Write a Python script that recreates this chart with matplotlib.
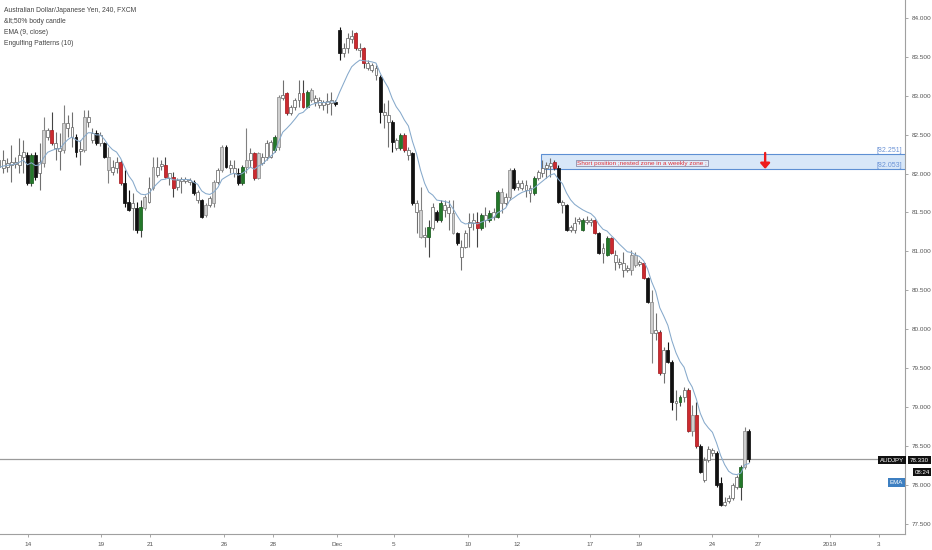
import matplotlib
matplotlib.use('Agg')
import matplotlib.pyplot as plt
from matplotlib.patches import Rectangle
import numpy as np

plt.rcParams['font.family'] = ['Liberation Sans', 'DejaVu Sans']

# ---------------- data (AUDJPY, 240 min candles) ----------------
opens = [
    82.09, 82.07, 82.09, 82.11, 82.12, 82.11, 82.21, 82.24, 81.88, 82.24,
    82.01, 82.14, 82.47, 82.56, 82.33, 82.29, 82.30, 82.59, 82.47, 82.47,
    82.29, 82.30, 82.66, 82.43, 82.52, 82.39, 82.39, 82.21, 82.02, 82.07,
    82.15, 81.88, 81.64, 81.56, 81.56, 81.28, 81.56, 81.64, 81.82, 81.98,
    82.10, 82.11, 81.94, 81.96, 81.83, 81.90, 81.90, 81.89, 81.89, 81.66,
    81.66, 81.47, 81.60, 81.62, 81.89, 82.05, 82.34, 82.07, 82.01, 82.01,
    81.88, 82.09, 82.18, 82.27, 81.94, 82.14, 82.21, 82.21, 82.30, 82.34,
    82.97, 83.04, 82.78, 82.86, 82.95, 83.04, 82.86, 82.95, 82.92, 82.88,
    82.88, 82.89, 82.91, 82.92, 83.85, 83.55, 83.61, 83.73, 83.81, 83.59,
    83.61, 83.36, 83.33, 83.27, 83.24, 82.75, 82.66, 82.66, 82.33, 82.33,
    82.50, 82.24, 82.27, 81.51, 81.53, 81.19, 81.19, 81.30, 81.51, 81.40,
    81.53, 81.49, 81.49, 81.24, 80.93, 81.06, 81.31, 81.37, 81.38, 81.30,
    81.40, 81.40, 81.44, 81.44, 81.76, 81.62, 81.70, 82.05, 81.83, 81.82,
    81.79, 81.75, 81.75, 81.94, 82.01, 82.07, 82.10, 82.15, 82.07, 81.60,
    81.60, 81.28, 81.28, 81.39, 81.28, 81.38, 81.38, 81.40, 81.24, 80.98,
    80.95, 81.17, 80.86, 80.84, 80.76, 80.76, 80.76, 80.95, 80.84, 80.85,
    80.66, 80.35, 79.95, 79.96, 79.44, 79.73, 79.58, 79.05, 79.06, 79.13,
    79.22, 78.69, 78.90, 78.50, 78.06, 78.32, 78.41, 78.41, 78.02, 77.74,
    77.79, 77.83, 77.97, 77.97, 78.23, 78.69,
]
highs = [
    82.37, 82.30, 82.20, 82.37, 82.21, 82.46, 82.43, 82.28, 82.26, 82.28,
    82.39, 82.73, 82.59, 82.79, 82.53, 82.52, 82.88, 82.75, 82.79, 82.51,
    82.43, 82.82, 82.82, 82.59, 82.56, 82.53, 82.41, 82.34, 82.18, 82.21,
    82.18, 82.05, 81.79, 81.75, 81.64, 81.66, 81.73, 81.96, 82.21, 82.21,
    82.18, 82.21, 82.01, 82.02, 81.94, 81.96, 81.96, 81.94, 81.92, 81.79,
    81.67, 81.62, 81.71, 81.92, 82.07, 82.37, 82.37, 82.18, 82.18, 82.07,
    82.11, 82.59, 82.33, 82.28, 82.28, 82.27, 82.43, 82.43, 82.50, 83.01,
    83.20, 83.05, 82.88, 82.97, 83.20, 83.20, 83.07, 83.10, 83.01, 82.98,
    82.95, 83.04, 83.05, 82.95, 83.88, 83.68, 83.81, 83.85, 83.82, 83.68,
    83.63, 83.46, 83.42, 83.40, 83.27, 82.91, 82.95, 82.69, 82.46, 82.52,
    82.52, 82.34, 82.28, 81.66, 81.83, 81.31, 81.40, 81.62, 81.53, 81.66,
    81.66, 81.66, 81.66, 81.25, 81.15, 81.28, 81.49, 81.49, 81.51, 81.49,
    81.57, 81.53, 81.56, 81.79, 81.82, 81.75, 82.07, 82.07, 81.92, 81.92,
    81.92, 81.85, 81.97, 82.05, 82.18, 82.15, 82.20, 82.18, 82.11, 81.66,
    81.61, 81.34, 81.44, 81.44, 81.43, 81.46, 81.43, 81.42, 81.25, 81.11,
    81.20, 81.19, 81.02, 80.92, 80.99, 80.83, 81.02, 80.99, 80.89, 80.86,
    80.67, 80.50, 80.21, 79.99, 79.77, 79.84, 79.60, 79.22, 79.15, 79.26,
    79.24, 79.03, 79.06, 78.53, 78.36, 78.50, 78.47, 78.44, 78.10, 77.84,
    77.87, 78.02, 78.13, 78.26, 78.74, 78.72,
]
lows = [
    81.66, 82.01, 82.02, 81.89, 82.07, 82.01, 82.01, 81.85, 81.84, 81.92,
    81.79, 82.09, 82.43, 82.37, 82.18, 82.05, 82.27, 82.47, 82.34, 82.21,
    82.11, 82.28, 82.60, 82.39, 82.37, 82.35, 82.20, 81.88, 81.98, 82.01,
    81.85, 81.57, 81.52, 81.28, 81.24, 81.19, 81.53, 81.62, 81.79, 81.96,
    82.05, 81.94, 81.85, 81.70, 81.79, 81.75, 81.88, 81.85, 81.72, 81.62,
    81.43, 81.44, 81.57, 81.57, 81.87, 82.02, 82.07, 82.01, 81.96, 81.85,
    81.85, 82.01, 82.09, 81.92, 81.93, 82.11, 82.18, 82.20, 82.28, 82.30,
    82.95, 82.75, 82.75, 82.82, 82.86, 82.84, 82.84, 82.92, 82.87, 82.84,
    82.82, 82.78, 82.75, 82.87, 83.46, 83.50, 83.55, 83.68, 83.59, 83.50,
    83.36, 83.33, 83.31, 83.20, 82.65, 82.59, 82.34, 82.28, 82.30, 82.30,
    82.28, 82.18, 81.60, 81.24, 81.17, 81.06, 80.93, 81.28, 81.38, 81.38,
    81.44, 81.28, 81.22, 81.08, 80.76, 81.04, 81.06, 81.28, 81.06, 81.28,
    81.31, 81.38, 81.40, 81.43, 81.49, 81.60, 81.66, 81.79, 81.79, 81.79,
    81.70, 81.64, 81.73, 81.92, 81.96, 81.94, 81.96, 82.05, 81.62, 81.49,
    81.26, 81.25, 81.24, 81.35, 81.26, 81.35, 81.33, 81.22, 80.97, 80.85,
    80.94, 80.97, 80.76, 80.79, 80.67, 80.74, 80.70, 80.80, 80.81, 80.65,
    80.34, 79.57, 79.86, 79.41, 79.31, 79.57, 78.96, 78.83, 79.01, 79.06,
    78.68, 78.63, 78.47, 78.15, 78.04, 78.29, 78.37, 77.97, 77.73, 77.73,
    77.77, 77.80, 77.95, 77.80, 78.20, 78.29,
]
closes = [
    82.18, 82.18, 82.14, 82.15, 82.15, 82.24, 82.28, 81.88, 82.24, 81.96,
    82.15, 82.56, 82.56, 82.39, 82.39, 82.33, 82.65, 82.65, 82.60, 82.28,
    82.32, 82.73, 82.73, 82.52, 82.39, 82.50, 82.21, 82.05, 82.09, 82.15,
    81.88, 81.62, 81.53, 81.62, 81.28, 81.57, 81.70, 81.82, 82.09, 82.09,
    82.12, 81.96, 82.01, 81.82, 81.92, 81.93, 81.93, 81.92, 81.75, 81.76,
    81.44, 81.60, 81.69, 81.89, 82.05, 82.34, 82.09, 82.11, 82.07, 81.88,
    82.09, 82.18, 82.27, 81.94, 82.27, 82.21, 82.39, 82.41, 82.47, 82.98,
    83.01, 82.78, 82.86, 82.95, 83.04, 82.86, 83.05, 83.07, 82.97, 82.95,
    82.92, 82.93, 82.95, 82.89, 83.55, 83.61, 83.74, 83.77, 83.61, 83.61,
    83.42, 83.42, 83.40, 83.36, 82.79, 82.79, 82.75, 82.41, 82.43, 82.50,
    82.30, 82.30, 81.62, 81.62, 81.19, 81.21, 81.31, 81.57, 81.40, 81.62,
    81.60, 81.57, 81.24, 81.11, 81.06, 81.24, 81.38, 81.40, 81.30, 81.47,
    81.47, 81.49, 81.51, 81.76, 81.62, 81.70, 82.05, 81.82, 81.88, 81.88,
    81.85, 81.82, 81.94, 82.02, 82.07, 82.11, 82.14, 82.07, 81.64, 81.64,
    81.28, 81.31, 81.37, 81.42, 81.40, 81.40, 81.40, 81.24, 80.98, 81.04,
    81.17, 80.98, 80.95, 80.86, 80.85, 80.79, 80.95, 80.83, 80.86, 80.66,
    80.35, 79.95, 79.99, 79.44, 79.73, 79.58, 79.06, 79.08, 79.13, 79.22,
    78.69, 78.90, 78.50, 78.17, 78.32, 78.46, 78.45, 78.00, 77.74, 77.78,
    77.83, 78.00, 78.10, 78.23, 78.69, 78.33,
]
# candles flagged by the indicators
bull_engulf = [8, 35, 60, 68, 76, 99, 106, 109, 119, 121, 123, 132, 144, 150, 168, 183]
bear_engulf = [13, 30, 41, 43, 63, 71, 75, 88, 90, 100, 118, 137, 147, 151, 159, 163, 170, 172]
grey_body = [11, 16, 21, 27, 36, 38, 51, 53, 55, 61, 64, 69, 77, 104, 112, 124, 126,
             156, 157, 161, 171, 184]

ema_length = 9
ema_seed = 82.05
last_price = 78.33
zone_top, zone_bottom = 82.251, 82.053
zone_start = 133.7          # candle index where the zone begins
arrow_at = 189              # candle index of the red arrow
note_at = 142.6             # candle index of the note
tick_at = [7.15, 25.2, 37.2, 55.5, 67.6, 83.4, 97.4, 115.7, 127.8, 145.8, 157.9,
           175.9, 187.2, 205.0, 217.0]
tick_labels = ['14', '19', '21', '26', '28', 'Dec', '5', '10', '12', '17', '19',
               '24', '27', '2019', '3']
price_ticks = [77.5, 78.0, 78.5, 79.0, 79.5, 80.0, 80.5, 81.0, 81.5, 82.0, 82.5,
               83.0, 83.5, 84.0]

# ---------------- figure ----------------
W, H = 932, 550
fig = plt.figure(figsize=(W / 100, H / 100), dpi=100)
fig.patch.set_facecolor('white')
ax = fig.add_axes([0, 1 - 534 / H, 905 / W, 534 / H])
ax.set_facecolor('white')

X_MAX = 223.5
ax.set_xlim(0.247, X_MAX)
ax.set_ylim(77.368, 84.231)

o = np.array(opens); h = np.array(highs); l = np.array(lows); c = np.array(closes)
n = len(c)
x = np.arange(n)

face, edge, wick = [], [], []
for i in range(n):
    if i in bull_engulf:
        face.append('#23782a'); edge.append('#1b5e20'); wick.append('#444444')
    elif i in bear_engulf:
        face.append('#cc2a2f'); edge.append('#a51d22'); wick.append('#444444')
    elif i in grey_body:
        face.append('#cfcfcf'); edge.append('#8c8c8c'); wick.append('#808080')
    elif c[i] >= o[i]:
        face.append('#ffffff'); edge.append('#6a6a6a'); wick.append('#707070')
    else:
        face.append('#111111'); edge.append('#111111'); wick.append('#111111')

ax.vlines(x, l, h, colors=wick, linewidths=0.8, zorder=2)
bottoms = np.minimum(o, c)
heights = np.maximum(np.abs(c - o), 0.012)
ax.bar(x, heights, bottom=bottoms, width=0.72, color=face, edgecolor=edge,
       linewidth=0.55, zorder=3)

# EMA
ema = []
prev = ema_seed
alpha = 2 / (ema_length + 1)
for v in c:
    prev = alpha * v + (1 - alpha) * prev
    ema.append(prev)
ax.plot(x, ema, color='#86a9cb', lw=0.75, zorder=4)

# zone
ax.add_patch(Rectangle((zone_start, zone_bottom), X_MAX - zone_start + 2,
                       zone_top - zone_bottom, facecolor='#d8e7f8',
                       edgecolor='#5d8fd3', lw=0.8, zorder=1))
ax.text(222.7, 82.30, '[82.251]', ha='right', va='center', fontsize=5,
        color='#6b93d6', zorder=6)
ax.text(222.7, 82.105, '[82.053]', ha='right', va='center', fontsize=5,
        color='#6b93d6', zorder=6)
ax.text(note_at, 82.136, 'Short position ;nested zone in a weekly zone ;',
        ha='left', va='center', fontsize=4.6, color='#e0323a', zorder=6,
        bbox=dict(boxstyle='square,pad=0.12', fc='#e3edf9', ec='#8c8ca8', lw=0.6))
ax.annotate('', xy=(arrow_at, 82.06), xytext=(arrow_at, 82.265),
            arrowprops=dict(arrowstyle='-|>,head_width=0.28,head_length=0.32',
                            color='#ee1c1c', lw=1.7, shrinkA=0, shrinkB=0),
            zorder=6)

# last price line
ax.axhline(last_price, color='#9a9a9a', lw=0.9, zorder=1)

# axes styling
for s in ['top', 'left']:
    ax.spines[s].set_visible(False)
for s in ['right', 'bottom']:
    ax.spines[s].set_color('#a0a0a0')
    ax.spines[s].set_linewidth(0.8)
ax.yaxis.tick_right()
ax.set_yticks(price_ticks)
ax.set_yticklabels([f'{v:.3f}' for v in price_ticks])
ax.set_xticks(tick_at)
ax.set_xticklabels(tick_labels)
ax.tick_params(axis='y', length=2.5, width=0.6, color='#999999', labelsize=4.6,
               labelcolor='#555555', pad=2)
ax.tick_params(axis='x', length=2.5, width=0.6, color='#999999', labelsize=4.6,
               labelcolor='#555555', pad=3)

# legend texts (top-left)
legend_lines = ['Australian Dollar/Japanese Yen, 240, FXCM', '&lt;50% body candle',
                'EMA (9, close)', 'Engulfing Patterns (10)']
for k, t in enumerate(legend_lines):
    fig.text(4 / W, 1 - (11 + 10.8 * k) / H, t, ha='left', va='center',
             fontsize=4.9, color='#444444')

# right-side price labels
fig.text(892 / W, 1 - 460 / H, 'AUDJPY', ha='center', va='center', fontsize=4.4,
         color='white', bbox=dict(boxstyle='square,pad=0.25', fc='#111111', ec='none'))
fig.text(919.5 / W, 1 - 460 / H, f'{last_price:.3f}', ha='center', va='center',
         fontsize=4.4, color='white',
         bbox=dict(boxstyle='square,pad=0.25', fc='#111111', ec='none'))
fig.text(922 / W, 1 - 472 / H, '08:24', ha='center', va='center', fontsize=4.4,
         color='white', bbox=dict(boxstyle='square,pad=0.25', fc='#111111', ec='none'))
fig.text(896.5 / W, 1 - 482.5 / H, 'EMA', ha='center', va='center', fontsize=4.4,
         color='white', bbox=dict(boxstyle='square,pad=0.3', fc='#3d7fc1', ec='none'))

fig.savefig('out.png', dpi=100)
